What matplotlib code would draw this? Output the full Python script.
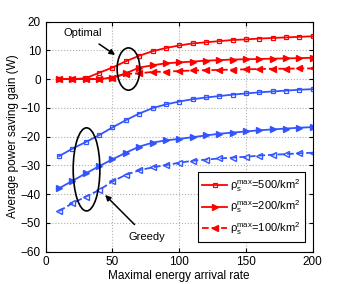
import numpy as np
import matplotlib.pyplot as plt
from matplotlib.patches import Ellipse

plt.rcParams.update({'font.size': 8, 'font.family': ['Liberation Sans', 'DejaVu Sans'],
                     'mathtext.fontset': 'custom', 'mathtext.rm': 'Liberation Sans'})

rate = [10, 20, 30, 40, 50, 60, 70, 80, 90, 100, 110, 120, 130, 140, 150, 160, 170, 180, 190, 200]

# optimal scheme (red)
opt_500 = [0, 0, 0.3, 2.2, 4.0, 6.2, 8.1, 9.7, 10.8, 11.7, 12.4, 12.8, 13.2, 13.6, 13.8, 14.1, 14.3, 14.5, 14.7, 14.9]
opt_200 = [0, 0, 0, 0, 0.5, 2.0, 4.0, 4.8, 5.5, 5.8, 6.1, 6.4, 6.6, 6.8, 6.9, 7.0, 7.1, 7.2, 7.3, 7.4]
opt_100 = [0, 0, 0, 0, 0.5, 1.8, 2.0, 2.5, 2.6, 2.8, 3.0, 3.1, 3.2, 3.3, 3.4, 3.5, 3.6, 3.6, 3.7, 3.7]

# greedy scheme (blue)
gr_500 = [-26.8, -24.2, -21.9, -19.5, -16.8, -14.3, -12.0, -10.1, -8.8, -7.8, -7.0, -6.4, -5.9, -5.4, -5.0, -4.6, -4.3, -4.0, -3.7, -3.5]
gr_200 = [-38.0, -35.4, -32.8, -30.3, -27.9, -25.6, -23.5, -22.1, -21.3, -20.8, -20.2, -19.6, -19.0, -18.6, -18.2, -17.8, -17.5, -17.2, -16.9, -16.7]
gr_100 = [-45.9, -43.2, -40.9, -38.6, -35.6, -33.3, -31.7, -30.7, -29.9, -29.1, -28.4, -28.0, -27.6, -27.3, -27.0, -26.6, -26.3, -26.1, -25.8, -25.6]

labels = [r'$\mathrm{\rho_s^{max}}$=500/km$^2$',
          r'$\mathrm{\rho_s^{max}}$=200/km$^2$',
          r'$\mathrm{\rho_s^{max}}$=100/km$^2$']

red = '#ff0000'
blue = '#3355ff'

fig = plt.figure(figsize=(3.46, 2.84), dpi=100)
ax = fig.add_axes([0.132, 0.114, 0.772, 0.81])

ax.plot(rate, opt_500, '-s', color=red, lw=1.3, ms=3.5, mfc='none', mew=0.9, label=labels[0])
ax.plot(rate, opt_200, '->', color=red, lw=1.3, ms=4.5, label=labels[1])
ax.plot(rate, opt_100, '--<', color=red, lw=1.3, ms=4.5, label=labels[2])

ax.plot(rate, gr_500, '-s', color=blue, lw=1.3, ms=3.5, mfc='none', mew=0.9)
ax.plot(rate, gr_200, '->', color=blue, lw=1.3, ms=4.5)
ax.plot(rate, gr_100, '--<', color=blue, lw=1.3, ms=4.5, mfc='none')

# ellipses and annotations
ax.add_patch(Ellipse((62, 3.5), 17, 14.7, fill=False, ec='k', lw=1.2, zorder=6))
ax.add_patch(Ellipse((30.6, -31.4), 20, 28.9, fill=False, ec='k', lw=1.2, zorder=6))
ax.annotate('Optimal', xy=(52, 8.4), xytext=(28, 16.0), ha='center', va='center',
            arrowprops=dict(arrowstyle='-|>', color='k', lw=1.1, shrinkA=4, shrinkB=0))
ax.annotate('Greedy', xy=(44.5, -40.3), xytext=(76, -55), ha='center', va='center',
            arrowprops=dict(arrowstyle='-|>', color='k', lw=1.1, shrinkA=5, shrinkB=0))

ax.set_xlim(0, 200)
ax.set_ylim(-60, 20)
ax.set_xticks(np.arange(0, 201, 50))
ax.set_yticks(np.arange(-60, 21, 10))
ax.grid(True, linestyle=':', color='#b0b0b0', lw=0.8)
ax.tick_params(direction='in', length=3, top=True, right=True, labelsize=8.5)
ax.set_xlabel('Maximal energy arrival rate', labelpad=1, fontsize=8.5)
ax.set_ylabel('Average power saving gain (W)', labelpad=1, fontsize=8.5)

leg = ax.legend(loc='lower right', fancybox=False, edgecolor='k', framealpha=1, fontsize=8,
                handlelength=2.2, handletextpad=0.3, borderpad=0.4, labelspacing=0.45,
                borderaxespad=0, bbox_to_anchor=(0.971, 0.043))
leg.get_frame().set_linewidth(0.8)

plt.savefig('out.png', dpi=100)
plt.close()
